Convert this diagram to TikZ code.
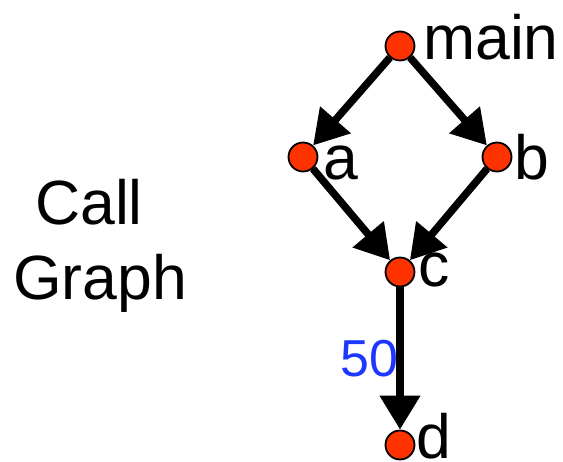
\documentclass[tikz,border=0pt]{standalone}
\usepackage{fontspec}
\setmainfont{Liberation Sans}
\usetikzlibrary{arrows.meta,backgrounds}
\definecolor{vertexred}{RGB}{255,51,0}
\definecolor{countblue}{RGB}{30,55,255}
\tikzset{
  vertex/.style={circle, draw=black, line width=1.8pt, fill=vertexred,
    minimum size=29pt, inner sep=0pt},
  call/.style={line width=7.5pt, -{Triangle[length=34pt,width=39pt]}},
  vname/.style={anchor=base west, inner sep=0pt,
    font=\fontsize{62.5}{75}\selectfont},
  title/.style={anchor=base, inner sep=0pt,
    font=\fontsize{62.5}{75}\selectfont},
  count/.style={anchor=base east, inner sep=0pt, text=countblue,
    font=\fontsize{52}{62}\selectfont}
}
\begin{document}
\begin{tikzpicture}[x=1pt,y=-1pt]
  \useasboundingbox (0,0) rectangle (563,462);

  % title
  \node[title] (t1) at (89,225) {Call};
  \node[title] (t2) at (100,300) {Graph};

  % call-graph vertices
  \node[vertex] (main) at (400,46) {};
  \node[vertex] (a) at (303,157) {};
  \node[vertex] (b) at (497,157) {};
  \node[vertex] (c) at (400,272) {};
  \node[vertex] (d) at (400,445) {};

  % vertex names
  \node[vname] (lmain) at (423,60) {main};
  \node[vname] (la) at (323,180) {a};
  \node[vname] (lb) at (514,180) {b};
  \node[vname] (lc) at (418,287) {c};
  \node[vname] (ld) at (416,459) {d};

  % calls
  \begin{pgfonlayer}{background}
    \draw[call] (main) -- (a);
    \draw[call] (main) -- (b);
    \draw[call] (a) -- (c);
    \draw[call] (b) -- (c);
    \draw[call] (c) -- node[count, pos=0.5, xshift=2pt, yshift=-18pt] {50} (d);
  \end{pgfonlayer}
\end{tikzpicture}
\end{document}
